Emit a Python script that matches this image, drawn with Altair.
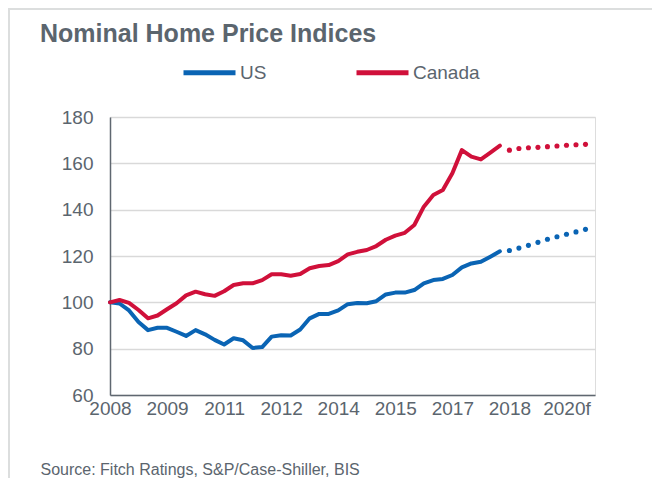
import altair as alt
import pandas as pd

# ---- data ----
quarters = [f"{y}Q{q}" for y in range(2008, 2021) for q in range(1, 5)]  # 2008Q1 .. 2020Q4
tick_quarters = quarters[::6]
tick_labels = ["2008", "2009", "2011", "2012", "2014", "2015", "2017", "2018", "2020f"]

series_names = ["US", "Canada"]
series_colors = ["#0A64B4", "#D0103A"]

us_actual = [100, 99.5, 96.5, 91.5, 88, 89, 89, 87.3, 85.5, 88, 86.2, 83.8, 81.8, 84.5,
             83.6, 80.3, 80.7, 85.2, 85.8, 85.7, 88.3, 93.1, 95, 95, 96.5, 99.2, 99.7,
             99.6, 100.5, 103.4, 104.2, 104.2, 105.3, 108.2, 109.6, 110.1, 111.8, 115.1,
             116.8, 117.5, 119.7, 122]
canada_actual = [100, 101, 99.8, 96.7, 93.1, 94.3, 97, 99.6, 103, 104.6, 103.5, 102.8,
                 104.8, 107.5, 108.2, 108.2, 109.6, 112.1, 112.1, 111.5, 112.2, 114.7,
                 115.7, 116.1, 117.8, 120.7, 121.8, 122.6, 124.3, 127, 128.8, 130, 133.4,
                 141.3, 146.3, 148.5, 155.7, 165.7, 162.9, 161.7, 164.6, 167.6]
us_forecast = [122.4, 123.4, 124.6, 125.9, 127.2, 128.3, 129.4, 130.4, 131.5]
canada_forecast = [165.7, 166.4, 166.7, 166.9, 167.2, 167.5, 167.8, 168.0, 168.2]

title_text = "Nominal Home Price Indices"
source_text = "Source: Fitch Ratings, S&P/Case-Shiller, BIS"

# ---- tables ----
n_act = len(us_actual)
actual_df = pd.DataFrame(
    {"quarter": quarters[:n_act] * 2,
     "idx": list(range(n_act)) * 2,
     "series": ["US"] * n_act + ["Canada"] * n_act,
     "value": us_actual + canada_actual}
)
n_fc = len(us_forecast)
fc_q = quarters[n_act:n_act + n_fc]
us_fc_df = pd.DataFrame({"quarter": fc_q, "value": us_forecast})
ca_fc_df = pd.DataFrame({"quarter": fc_q, "value": canada_forecast})

TEXT = "#5B656E"
FONT = "Liberation Sans"

label_expr = "''"
for q, lab in reversed(list(zip(tick_quarters, tick_labels))):
    label_expr = f"datum.value == '{q}' ? '{lab}' : ({label_expr})"

x_enc = alt.X(
    "quarter:O",
    scale=alt.Scale(type="point", domain=quarters, padding=0),
    axis=alt.Axis(
        values=tick_quarters, labelExpr=label_expr, labelAngle=0,
        labelFontSize=19, labelColor=TEXT, labelFont=FONT, labelPadding=4,
        labelOverlap=False, labelBound=False,
        ticks=False, grid=False, domainColor="#5F6770", domainWidth=1.5,
        title=source_text, titleX=-70, titleY=79, titleAlign="left",
        titleAnchor="start", titleBaseline="alphabetic", titleFontSize=16,
        titleFontWeight="normal", titleColor=TEXT, titleFont=FONT,
    ),
)
y_enc = alt.Y(
    "value:Q",
    scale=alt.Scale(domain=[60, 180], nice=False),
    axis=alt.Axis(
        values=list(range(60, 181, 20)), labelFontSize=19, labelColor=TEXT,
        labelFont=FONT, labelPadding=17, ticks=False, grid=True,
        gridColor="#D9D9D9", gridWidth=1.5, domainColor="#5F6770",
        domainWidth=1.5, title=None,
    ),
)

lines = alt.Chart(actual_df).mark_line(
    strokeWidth=4, strokeCap="round", strokeJoin="round"
).encode(
    x=x_enc, y=y_enc,
    color=alt.Color(
        "series:N",
        scale=alt.Scale(domain=series_names, range=series_colors),
        legend=alt.Legend(
            title=None, orient="none", legendX=71, legendY=-73,
            direction="horizontal", symbolType="stroke", symbolSize=2704,
            symbolStrokeWidth=5, labelFontSize=19, labelColor=TEXT,
            labelFont=FONT, labelOffset=2, columnPadding=79,
        ),
    ),
    order=alt.Order("idx:Q"),
)

us_dots = alt.Chart(us_fc_df).mark_circle(size=26, opacity=1, color=series_colors[0]).encode(
    x="quarter:O", y="value:Q")
ca_dots = alt.Chart(ca_fc_df).mark_circle(size=26, opacity=1, color=series_colors[1]).encode(
    x="quarter:O", y="value:Q")

frame_df = pd.DataFrame({"k": [0]})
left_border = alt.Chart(frame_df).mark_rule(color="#DCDEDE", strokeWidth=2).encode(
    x=alt.value(-101), y=alt.value(-108), y2=alt.value(361))
top_border = alt.Chart(frame_df).mark_rule(color="#DCDEDE", strokeWidth=2).encode(
    x=alt.value(-102), x2=alt.value(542), y=alt.value(-108))

chart = alt.layer(lines, us_dots, ca_dots, left_border, top_border).properties(
    width=485, height=278,
    title=alt.TitleParams(
        title_text, anchor="start", frame="group", dx=-70, dy=59, offset=0,
        baseline="alphabetic", fontSize=25, fontWeight="bold", color=TEXT, font=FONT,
    ),
    autosize=alt.AutoSizeParams(type="none"),
    padding={"left": 102, "top": 109, "right": 57, "bottom": 83},
).configure_view(stroke=None).configure(background="white")

chart.save("out.html", embed_options={"renderer": "svg", "actions": False})
